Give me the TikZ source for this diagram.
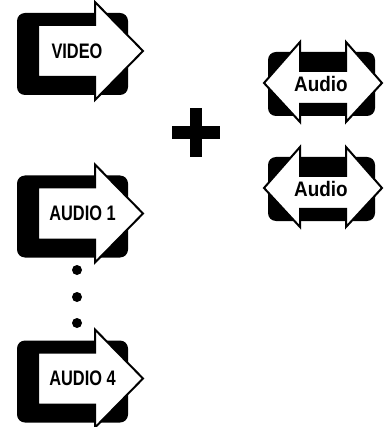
\documentclass[tikz,border=0pt]{standalone}
\usepackage{fontspec}
\setmainfont{Liberation Sans}
\newfontfamily\narrowfont[FakeStretch=0.78]{Liberation Sans}
\newfontfamily\audiofont[FakeStretch=0.9]{Liberation Sans}
\tikzset{
  backplate/.style={fill=black,rounded corners=8pt},
  whitearrow/.style={fill=white,draw=black,line width=2pt,line join=miter},
  narrowlabel/.style={font=\narrowfont\bfseries\fontsize{21}{21}\selectfont,inner sep=0pt},
  widelabel/.style={font=\audiofont\bfseries\fontsize{21}{21}\selectfont,inner sep=0pt}
}
\begin{document}
\begin{tikzpicture}[x=1pt,y=-1pt]
  \useasboundingbox (0,0) rectangle (383,427);
  % one-way arrows
  \foreach \name/\txt/\tx/\cy in {video/VIDEO/77/54, audioone/AUDIO 1/82.5/216.5, audiofour/AUDIO 4/82.5/381.5}{
    \fill[backplate] (17,\cy-41) rectangle (128,\cy+41);
    \draw[whitearrow] (38,\cy-29) -- (95,\cy-29) -- (95,\cy-52) -- (143,\cy-3)
      -- (95,\cy+46) -- (95,\cy+23) -- (38,\cy+23) -- cycle;
    \node[narrowlabel] (\name) at (\tx,\cy-3) {\txt};
  }
  % dots between the audio channels
  \foreach \dy in {270,297,323}
    \fill (77,\dy) circle (5);
  % plus sign
  \fill (190,108) rectangle (202,157);
  \fill (172,126) rectangle (220,139);
  % two-way arrows
  \foreach \name/\cy in {audiotop/84, audiobottom/189}{
    \fill[backplate] (268,\cy-32) rectangle (375,\cy+32);
    \draw[whitearrow] (264,\cy-1) -- (300,\cy-42) -- (300,\cy-13) -- (346,\cy-13)
      -- (346,\cy-42) -- (382,\cy-1) -- (346,\cy+38) -- (346,\cy+20)
      -- (300,\cy+20) -- (300,\cy+38) -- cycle;
    \node[widelabel] (\name) at (321,\cy) {Audio};
  }
\end{tikzpicture}
\end{document}
